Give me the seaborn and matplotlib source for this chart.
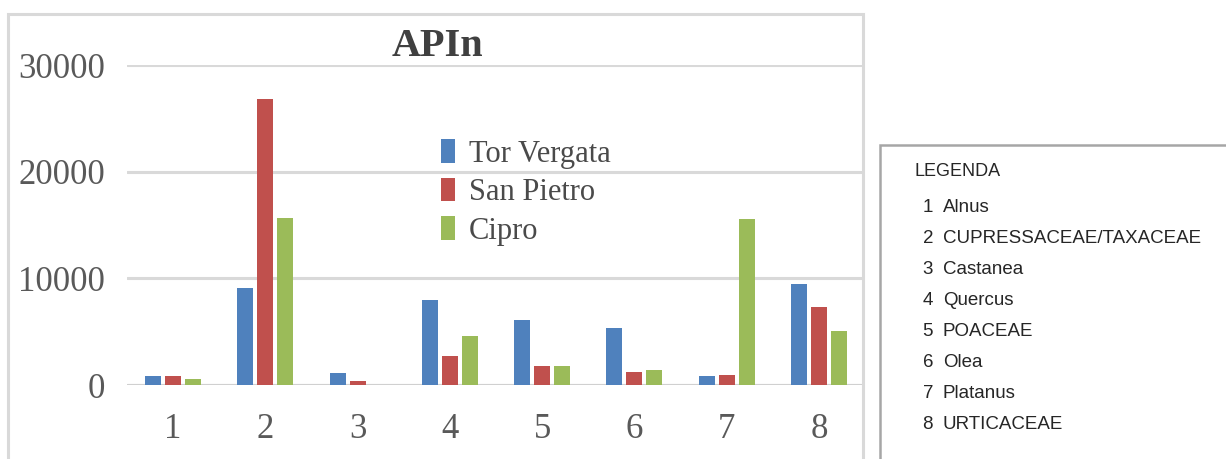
import numpy as np
import pandas as pd
import matplotlib
matplotlib.use("Agg")
import matplotlib.pyplot as plt
import matplotlib.patches as patches
import seaborn as sns

# ── Data ──────────────────────────────────────────────────────────────
groups = ["1", "2", "3", "4", "5", "6", "7", "8"]
sites = ["Tor Vergata", "San Pietro", "Cipro"]
tor_vergata = [850, 9050, 1150, 7950, 6100, 5350, 800, 9450]
san_pietro = [850, 26800, 380, 2700, 1750, 1250, 950, 7300]
cipro = [560, 15700, 0, 4550, 1750, 1450, 15600, 5100]
taxa = ["Alnus", "CUPRESSACEAE/TAXACEAE", "Castanea", "Quercus",
        "POACEAE", "Olea", "Platanus", "URTICACEAE"]
title = "APIn"
legend_title = "LEGENDA"

colors = ["#4F81BD", "#C0504D", "#9BBB59"]

df = pd.DataFrame({
    "gruppo": groups * 3,
    "sito": np.repeat(sites, len(groups)),
    "valore": tor_vergata + san_pietro + cipro,
})

# ── Figure ────────────────────────────────────────────────────────────
sns.set_theme(style="white")
plt.rcParams["font.family"] = ["Liberation Serif", "DejaVu Serif"]

W, H = 1226, 459
fig = plt.figure(figsize=(W / 100, H / 100), dpi=100)
fig.patch.set_facecolor("white")

ax = fig.add_axes([127 / W, 1 - 385 / H, (865 - 127) / W, (385 - 65) / H])
sns.barplot(data=df, x="gruppo", y="valore", hue="sito", palette=colors,
            saturation=1, width=0.65, gap=0.2, linewidth=0, ax=ax, zorder=3)

ax.set_ylim(0, 30000)
ax.set_yticks([0, 10000, 20000, 30000])
ax.yaxis.grid(True, color="#D9D9D9", linewidth=2.2, zorder=0)
ax.set_axisbelow(True)
for s in ax.spines.values():
    s.set_visible(False)
ax.axhline(0, color="#D0D0D0", linewidth=2.2, zorder=1)
ax.set_xlabel("")
ax.set_ylabel("")
ax.tick_params(axis="y", length=0, pad=16, labelsize=25, labelcolor="#595959")
ax.tick_params(axis="x", length=0, pad=20, labelsize=25, labelcolor="#595959")
ax.set_facecolor("none")

ax.legend(loc="upper left", bbox_to_anchor=(0.405, 0.815), frameon=False,
          fontsize=22, handlelength=0.45, handleheight=0.8,
          handletextpad=0.45, labelspacing=0.3, borderpad=0,
          labelcolor="#4A4A4A")

fig.text(437 / W, 1 - 47 / H, title, ha="center", va="center",
         fontsize=29, fontweight="bold", color="#404040")

# chart frame
fig.patches.append(patches.Rectangle(
    (8 / W, -0.05), (863 - 8) / W, 1.05 - 14 / H,
    transform=fig.transFigure, fill=False, edgecolor="#D9D9D9",
    linewidth=2.2, zorder=0))

# ── Side legend box ───────────────────────────────────────────────────
fig.patches.append(patches.Rectangle(
    (880 / W, -0.05), 0.4, 0.05 + 1 - 145 / H,
    transform=fig.transFigure, fill=False, edgecolor="#A6A6A6",
    linewidth=1.8, zorder=0))

side_font = ["Liberation Sans", "DejaVu Sans"]
fig.text(915 / W, 1 - 172 / H, legend_title, ha="left", va="center",
         fontsize=13, family=side_font, color="#262626")
for i, name in enumerate(taxa):
    y = 1 - (208 + i * 30.9) / H
    fig.text(933 / W, y, groups[i], ha="right", va="center",
             fontsize=13.5, family=side_font, color="#262626")
    fig.text(943 / W, y, name, ha="left", va="center",
             fontsize=13.5, family=side_font, color="#262626")

fig.savefig("out.png", dpi=100, facecolor="white")
